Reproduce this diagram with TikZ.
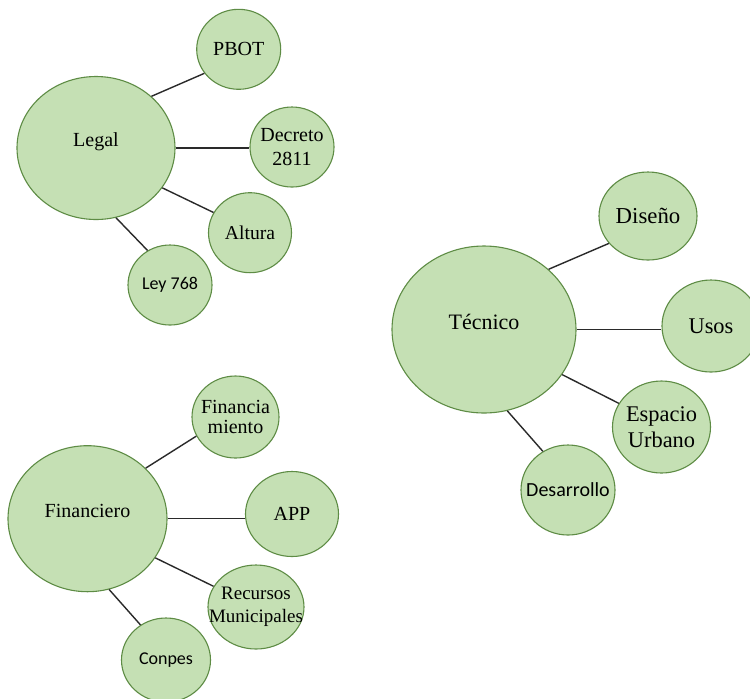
\documentclass[tikz,border=0pt]{standalone}
\usepackage{fontspec}
\setmainfont{Liberation Serif}
\newfontfamily\calibri{Carlito}
\usetikzlibrary{shapes.geometric}

\definecolor{leaf}{HTML}{C5E0B4}
\definecolor{leafrim}{HTML}{5E8C45}
\definecolor{stem}{HTML}{2A2A2A}

\tikzset{
  bubble/.style 2 args={ellipse, draw=leafrim, fill=leaf, line width=0.55pt,
    inner sep=-14pt, align=center, minimum width=#1, minimum height=#2},
  hub/.style={text depth=8pt},
  fs/.style 2 args={font=\fontsize{#1}{#2}\selectfont},
  sf/.style={font=\calibri\fontsize{#1}{12}\selectfont},
  link/.style={draw=stem, line width=0.7pt}
}

\begin{document}
\begin{tikzpicture}[x=0.5pt, y=-0.5pt]

  \clip (0,0) rectangle (750,698);
  \fill[white] (0,0) rectangle (750,698);

  % Legal
  \node (Legal) [bubble={79pt}{71.5pt}, hub, fs={10}{12}] at (96,148) {Legal};
  \node (PBOT) [bubble={42pt}{40pt}, fs={10}{12}] at (238.7,49.3) {PBOT};
  \node (Decreto) [bubble={42pt}{40pt}, fs={10}{11.7}] at (292,147) {Decreto\\2811};
  \node (Altura) [bubble={41.5pt}{40pt}, fs={9.8}{12}] at (250,232.7) {Altura};
  \node (Ley) [bubble={42pt}{40pt}, sf=9] at (170,285) {Ley 768};

  % Tecnico
  \node (Tecnico) [bubble={92pt}{83.5pt}, hub, fs={11}{13}] at (484,329.5) {Técnico};
  \node (Diseno) [bubble={49pt}{44pt}, fs={11.4}{13}] at (648,216) {Diseño};
  \node (Usos) [bubble={49pt}{46pt}, fs={11.2}{13}] at (711,326) {Usos};
  \node (Espacio) [bubble={49pt}{46pt}, fs={11.2}{13.3}] at (661.5,427) {Espacio\\Urbano};
  \node (Desarrollo) [bubble={47pt}{45pt}, sf=10] at (568,490) {Desarrollo};

  % Financiero
  \node (Financiero) [bubble={79.5pt}{73pt}, hub, fs={10}{12}] at (87.5,518.7) {Financiero};
  \node (Financiamiento) [bubble={43.5pt}{41pt}, fs={10}{10.3}] at (235.5,417) {Financia\\miento};
  \node (APP) [bubble={46.5pt}{42.5pt}, fs={10}{12}] at (292,514) {APP};
  \node (Recursos) [bubble={48pt}{42pt}, fs={9.5}{11.5}] at (256,607) {Recursos\\Municipales};
  \node (Conpes) [bubble={44.5pt}{42pt}, sf=9] at (166,660) {Conpes};

  \draw[link] (Legal.43) -- (PBOT.215);
  \draw[link] (Legal.east) -- (Legal.east -| Decreto.west);
  \draw[link] (Legal.329) -- (Altura.151);
  \draw[link] (Legal.286) -- (Ley.123);

  \draw[link] (Tecnico.43) -- (Diseno.215);
  \draw[link] (Tecnico.east) -- (Tecnico.east -| Usos.west);
  \draw[link] (Tecnico.330) -- (Espacio.151);
  \draw[link] (Tecnico.286) -- (Desarrollo.123);

  \draw[link] (Financiero.41) -- (Financiamiento.206);
  \draw[link] (Financiero.east) -- (Financiero.east -| APP.west);
  \draw[link] (Financiero.330) -- (Recursos.154);
  \draw[link] (Financiero.287) -- (Conpes.126);

\end{tikzpicture}
\end{document}
